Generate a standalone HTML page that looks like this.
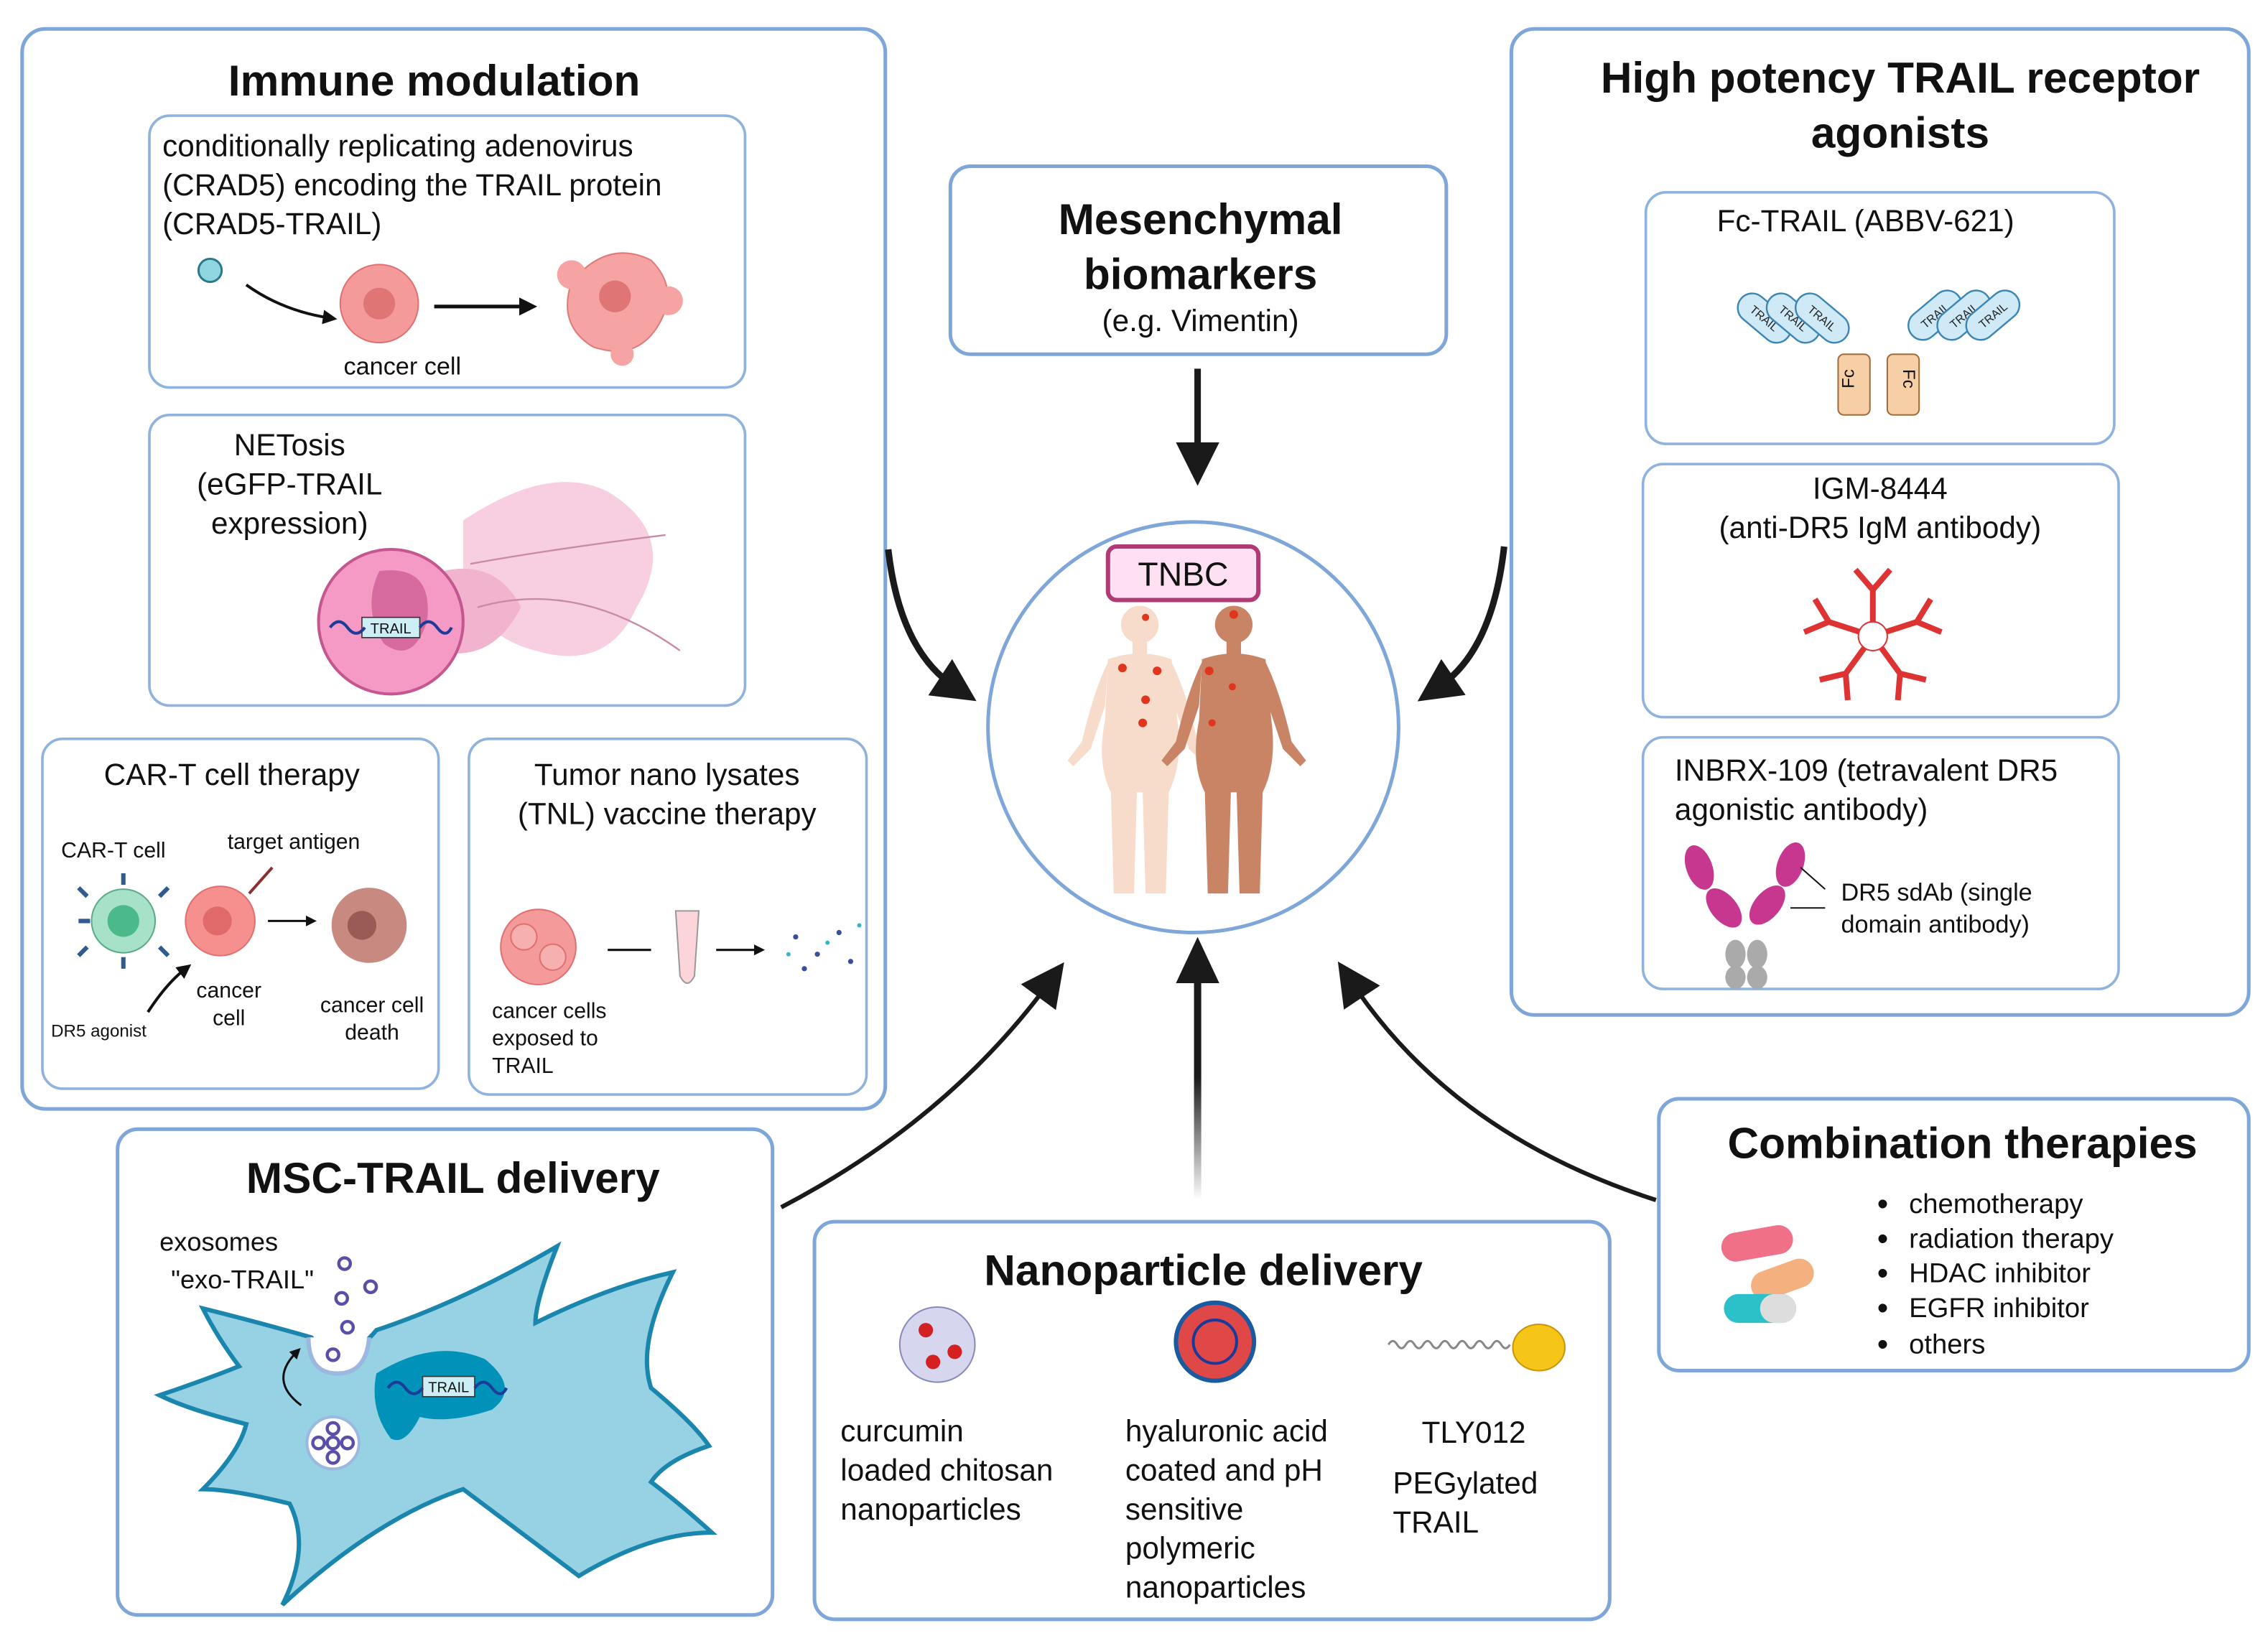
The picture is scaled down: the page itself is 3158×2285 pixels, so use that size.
<!DOCTYPE html>
<html><head><meta charset="utf-8"><style>html,body{margin:0;padding:0;background:#fff}svg{display:block}</style></head>
<body>
<svg xmlns="http://www.w3.org/2000/svg" width="3158" height="2285" viewBox="0 0 1568 1135" font-family="Liberation Sans, sans-serif">
<defs>
<marker id="ah" viewBox="0 0 10 10" refX="4" refY="5" markerUnits="userSpaceOnUse" markerWidth="34" markerHeight="30" orient="auto"><path d="M0,0 L10,5 L0,10 z" fill="#1a1a1a"/></marker>
<marker id="as" viewBox="0 0 10 10" refX="5" refY="5" markerWidth="5" markerHeight="5" orient="auto"><path d="M0,0 L10,5 L0,10 z" fill="#111"/></marker>
<linearGradient id="fade" gradientUnits="userSpaceOnUse" x1="0" y1="830" x2="0" y2="660"><stop offset="0" stop-color="#1a1a1a" stop-opacity="0"/><stop offset="0.5" stop-color="#1a1a1a"/></linearGradient>
<g id="body">
<circle cx="0" cy="14" r="13"/>
<rect x="-5" y="24" width="10" height="12"/>
<path d="M-22,38 Q0,30 22,38 L26,80 Q30,110 20,130 L18,200 L4,200 L2,130 L-2,130 L-4,200 L-18,200 L-20,130 Q-30,110 -24,80 Z"/>
<path d="M-22,40 Q-32,60 -40,95 L-50,108 L-46,112 L-34,100 L-24,70 Z"/>
<path d="M22,40 Q32,60 40,95 L50,108 L46,112 L34,100 L24,70 Z"/>
</g>
<g id="trail"><rect x="-21" y="-10" width="42" height="20" rx="10" fill="#cfe9f7" stroke="#3b86b5" stroke-width="1.2"/><text x="0" y="3" font-size="8" text-anchor="middle" fill="#222">TRAIL</text></g>
<g id="ab"><path d="M0,0 L0,-22 M0,-22 L-12,-36 M0,-22 L12,-36" stroke="#d33" stroke-width="4" fill="none"/></g>
</defs>
<rect width="1568" height="1135" fill="#fff"/>
<g fill="none" stroke="#7fa6d8" stroke-width="2.5">
<rect x="15" y="20" width="597" height="747" rx="16"/>
<rect x="1045" y="20" width="510" height="682" rx="16"/>
<rect x="657" y="115" width="343" height="130" rx="14"/>
<rect x="81" y="781" width="453" height="336" rx="14"/>
<rect x="563" y="845" width="550" height="275" rx="14"/>
<rect x="1147" y="760" width="408" height="188" rx="14"/>
</g>
<g fill="none" stroke="#8fb3de" stroke-width="1.8">
<rect x="103" y="80" width="412" height="188" rx="14"/>
<rect x="103" y="287" width="412" height="201" rx="14"/>
<rect x="29" y="511" width="274" height="242" rx="14"/>
<rect x="324" y="511" width="275" height="246" rx="14"/>
<rect x="1138" y="133" width="324" height="174" rx="14"/>
<rect x="1136" y="321" width="329" height="175" rx="14"/>
<rect x="1136" y="510" width="329" height="174" rx="14"/>
</g>
<circle cx="825" cy="503" r="142" fill="none" stroke="#7fa6d8" stroke-width="2.5"/>

<!-- arrows -->
<g stroke="#1a1a1a" stroke-width="4.5" fill="none">
<path d="M828,255 L828,318" marker-end="url(#ah)"/>
<path d="M614,380 Q622,450 660,475" marker-end="url(#ah)"/>
<path d="M1040,378 Q1032,450 995,475" marker-end="url(#ah)"/>
</g>
<g fill="none">
<path d="M540,835 Q655,775 725,680" stroke="#1a1a1a" stroke-width="3" marker-end="url(#ah)"/>
<path d="M828,830 L828,675" stroke="url(#fade)" stroke-width="5"/>
<path d="M1145,830 Q1005,785 935,680" stroke="#1a1a1a" stroke-width="3" marker-end="url(#ah)"/>
</g>
<path d="M813,680 L843,680 L828,648 Z" fill="#1a1a1a"/>

<!-- titles -->
<g font-weight="bold" fill="#111" text-anchor="middle">
<text x="300" y="66" font-size="30">Immune modulation</text>
<text x="1314" y="64" font-size="30">High potency TRAIL receptor</text>
<text x="1314" y="102" font-size="30">agonists</text>
<text x="830" y="162" font-size="30">Mesenchymal</text>
<text x="830" y="200" font-size="30">biomarkers</text>
<text x="313" y="825" font-size="30">MSC-TRAIL delivery</text>
<text x="832" y="889" font-size="30">Nanoparticle delivery</text>
<text x="1357" y="801" font-size="30">Combination therapies</text>
</g>
<g fill="#111" font-size="21">
<text x="830" y="229" font-size="21" text-anchor="middle">(e.g. Vimentin)</text>
<text x="112" y="108">conditionally replicating adenovirus</text>
<text x="112" y="135">(CRAD5) encoding the TRAIL protein</text>
<text x="112" y="162">(CRAD5-TRAIL)</text>
<text x="278" y="259" font-size="17" text-anchor="middle">cancer cell</text>
<text x="200" y="315" text-anchor="middle">NETosis</text>
<text x="200" y="342" text-anchor="middle">(eGFP-TRAIL</text>
<text x="200" y="369" text-anchor="middle">expression)</text>
<text x="160" y="543" text-anchor="middle">CAR-T cell therapy</text>
<text x="461" y="543" text-anchor="middle">Tumor nano lysates</text>
<text x="461" y="570" text-anchor="middle">(TNL) vaccine therapy</text>
<text x="1290" y="160" text-anchor="middle">Fc-TRAIL (ABBV-621)</text>
<text x="1300" y="345" text-anchor="middle">IGM-8444</text>
<text x="1300" y="372" text-anchor="middle">(anti-DR5 IgM antibody)</text>
<text x="1158" y="540">INBRX-109 (tetravalent DR5</text>
<text x="1158" y="567">agonistic antibody)</text>
<text x="581" y="997">curcumin</text>
<text x="581" y="1024">loaded chitosan</text>
<text x="581" y="1051">nanoparticles</text>
<text x="778" y="997">hyaluronic acid</text>
<text x="778" y="1024">coated and pH</text>
<text x="778" y="1051">sensitive</text>
<text x="778" y="1078">polymeric</text>
<text x="778" y="1105">nanoparticles</text>
<text x="983" y="998">TLY012</text>
<text x="963" y="1033">PEGylated</text>
<text x="963" y="1060">TRAIL</text>
</g>
<g fill="#111" font-size="19">
<text x="1320" y="839">chemotherapy</text>
<text x="1320" y="863">radiation therapy</text>
<text x="1320" y="887">HDAC inhibitor</text>
<text x="1320" y="911">EGFR inhibitor</text>
<text x="1320" y="936">others</text>
<g font-size="22"><text x="1298" y="840">•</text><text x="1298" y="864">•</text><text x="1298" y="888">•</text><text x="1298" y="912">•</text><text x="1298" y="937">•</text></g>
</g>
<g fill="#111" font-size="15">
<text x="42" y="593">CAR-T cell</text>
<text x="157" y="587">target antigen</text>
<text x="158" y="690" text-anchor="middle">cancer</text>
<text x="158" y="709" text-anchor="middle">cell</text>
<text x="257" y="700" text-anchor="middle">cancer cell</text>
<text x="257" y="719" text-anchor="middle">death</text>
<text x="35" y="717" font-size="12">DR5 agonist</text>
<text x="340" y="704">cancer cells</text>
<text x="340" y="723">exposed to</text>
<text x="340" y="742">TRAIL</text>
<text x="1273" y="623" font-size="17">DR5 sdAb (single</text>
<text x="1273" y="645" font-size="17">domain antibody)</text>
<text x="110" y="865" font-size="18">exosomes</text>
<text x="118" y="891" font-size="18">"exo-TRAIL"</text>
</g>

<!-- CRAD5 illustration -->
<g>
<circle cx="145" cy="187" r="8" fill="#8fd6e0" stroke="#2a7a8a" stroke-width="1.5"/>
<path d="M170,197 Q195,215 228,220" stroke="#111" stroke-width="2" fill="none" marker-end="url(#as)"/>
<circle cx="262" cy="210" r="27" fill="#f49a9a" stroke="#e07070"/>
<circle cx="262" cy="210" r="11" fill="#e07575"/>
<path d="M300,212 L365,212" stroke="#111" stroke-width="2.5" marker-end="url(#as)"/>
<path d="M395,195 Q420,165 450,180 Q470,200 455,225 Q440,250 410,240 Q385,225 395,195Z" fill="#f6a3a3" stroke="#e07a7a"/>
<circle cx="425" cy="205" r="11" fill="#e07575"/>
<circle cx="395" cy="190" r="10" fill="#f6a3a3"/><circle cx="462" cy="208" r="10" fill="#f6a3a3"/><circle cx="430" cy="245" r="8" fill="#f6a3a3"/>
</g>
<!-- NETosis -->
<g>
<path d="M320,360 Q380,320 420,340 Q470,370 440,420 Q420,465 370,450 Q330,440 320,400Z" fill="#f8cfe0"/>
<path d="M290,400 Q340,380 360,420 Q340,460 300,450Z" fill="#f2b3ce"/>
<circle cx="270" cy="430" r="50" fill="#f49ac4" stroke="#c4578f" stroke-width="2"/>
<path d="M262,395 Q300,390 295,430 Q285,460 265,445 Q250,420 262,395Z" fill="#d76a9e"/>
<rect x="250" y="427" width="40" height="14" fill="#cdeef5" stroke="#333" stroke-width="0.8"/>
<text x="270" y="438" font-size="10" text-anchor="middle" fill="#111">TRAIL</text>
<path d="M228,434 q6,-8 12,0 t12,0 M290,434 q6,-8 12,0 t10,0" stroke="#1d3c9a" stroke-width="2" fill="none"/>
<path d="M325,390 Q380,380 460,370 M330,420 Q400,400 470,450" stroke="#c98aaa" stroke-width="1.2" fill="none"/>
</g>
<!-- CAR-T -->
<g>
<circle cx="85" cy="637" r="22" fill="#a7e1c7" stroke="#5aaa8a"/>
<circle cx="85" cy="637" r="11" fill="#4cb98a"/>
<g stroke="#2f5b8f" stroke-width="3"><path d="M60,620 l-6,-6 M110,620 l6,-6 M60,655 l-6,6 M110,655 l6,6 M85,612 v-8 M85,662 v8 M62,637 h-8"/></g>
<circle cx="152" cy="637" r="24" fill="#f5908e" stroke="#e07070"/>
<circle cx="150" cy="637" r="10" fill="#e06a6a"/>
<path d="M172,618 L188,600" stroke="#8a3030" stroke-width="2"/>
<path d="M102,700 Q115,680 128,670" stroke="#111" stroke-width="2" fill="none" marker-end="url(#as)"/>
<path d="M185,637 L215,637" stroke="#111" stroke-width="1.5" marker-end="url(#as)"/>
<circle cx="255" cy="640" r="26" fill="#c88a80"/>
<circle cx="250" cy="640" r="10" fill="#9a5a55"/>
</g>
<!-- TNL -->
<g>
<circle cx="372" cy="655" r="26" fill="#f49a9a" stroke="#e07070"/>
<circle cx="362" cy="648" r="9" fill="#f7b0b0" stroke="#e07070"/><circle cx="382" cy="662" r="9" fill="#f7b0b0" stroke="#e07070"/>
<path d="M420,657 L450,657 M495,657 L525,657" stroke="#111" stroke-width="1.5" marker-end="url(#as)"/>
<path d="M467,630 L483,630 L480,675 Q475,685 470,675 Z" fill="#fbd5d9" stroke="#999"/>
<g fill="#3a4ea0"><circle cx="550" cy="648" r="1.8"/><circle cx="565" cy="660" r="1.8"/><circle cx="580" cy="645" r="1.8"/><circle cx="556" cy="670" r="1.8"/><circle cx="588" cy="665" r="1.8"/></g>
<g fill="#3ab5c8"><circle cx="545" cy="660" r="1.5"/><circle cx="572" cy="652" r="1.5"/><circle cx="594" cy="640" r="1.5"/></g>
</g>

<!-- TNBC -->
<rect x="766" y="378" width="104" height="37" rx="6" fill="#fde0f2" stroke="#b03a76" stroke-width="3"/>
<text x="818" y="405" font-size="23" text-anchor="middle" fill="#111">TNBC</text>
<use href="#body" x="788" y="418" fill="#f8dccb"/>
<use href="#body" x="853" y="418" fill="#c98466"/>
<g fill="#e0361e"><circle cx="776" cy="462" r="3"/><circle cx="800" cy="464" r="3"/><circle cx="792" cy="484" r="3"/><circle cx="790" cy="500" r="3"/><circle cx="836" cy="464" r="3"/><circle cx="852" cy="475" r="2.5"/><circle cx="838" cy="500" r="2.5"/><circle cx="792" cy="427" r="2.5"/><circle cx="853" cy="425" r="3"/></g>

<!-- Fc-TRAIL -->
<g>
<use href="#trail" transform="translate(1220,220) rotate(40)"/>
<use href="#trail" transform="translate(1240,220) rotate(40)"/>
<use href="#trail" transform="translate(1260,220) rotate(40)"/>
<use href="#trail" transform="translate(1338,218) rotate(-40)"/>
<use href="#trail" transform="translate(1358,218) rotate(-40)"/>
<use href="#trail" transform="translate(1378,218) rotate(-40)"/>
<rect x="1271" y="245" width="22" height="42" rx="4" fill="#f7cfa7" stroke="#a06a3a"/>
<rect x="1305" y="245" width="22" height="42" rx="4" fill="#f7cfa7" stroke="#a06a3a"/>
<text x="1286" y="266" font-size="12" transform="rotate(-90 1282 266)" text-anchor="middle" fill="#111">Fc</text>
<text x="1312" y="266" font-size="12" transform="rotate(90 1316 266)" text-anchor="middle" fill="#111">Fc</text>
</g>
<!-- IgM -->
<g transform="translate(1295,440)">
<circle r="10" fill="none" stroke="#d33" stroke-width="1"/>
<use href="#ab" transform="rotate(0) translate(0,-10)"/>
<use href="#ab" transform="rotate(72) translate(0,-10)"/>
<use href="#ab" transform="rotate(144) translate(0,-10)"/>
<use href="#ab" transform="rotate(216) translate(0,-10)"/>
<use href="#ab" transform="rotate(288) translate(0,-10)"/>
</g>
<!-- INBRX -->
<g>
<ellipse cx="1175" cy="600" rx="9" ry="16" fill="#c7378f" transform="rotate(-20 1175 600)"/>
<ellipse cx="1192" cy="628" rx="9" ry="16" fill="#c7378f" transform="rotate(-40 1192 628)"/>
<ellipse cx="1238" cy="598" rx="9" ry="16" fill="#c7378f" transform="rotate(20 1238 598)"/>
<ellipse cx="1222" cy="626" rx="9" ry="16" fill="#c7378f" transform="rotate(40 1222 626)"/>
<ellipse cx="1200" cy="660" rx="7" ry="10" fill="#aaa"/><ellipse cx="1215" cy="660" rx="7" ry="10" fill="#aaa"/>
<ellipse cx="1200" cy="676" rx="7" ry="8" fill="#aaa"/><ellipse cx="1215" cy="676" rx="7" ry="8" fill="#aaa"/>
<path d="M1245,600 L1262,615 M1238,628 L1262,628" stroke="#111" stroke-width="1"/>
</g>

<!-- MSC cell -->
<path d="M140,905 Q180,915 215,925 Q235,950 260,920 Q320,900 385,862 Q370,900 370,915 Q420,890 465,880 Q440,930 450,960 Q480,985 490,1000 Q460,1010 450,1025 Q470,1040 492,1060 Q450,1060 400,1090 Q360,1060 320,1030 Q260,1050 195,1110 Q215,1070 200,1040 Q160,1030 140,1030 Q165,1005 170,985 Q130,975 110,965 Q140,955 165,945 Q150,925 140,905Z" fill="#96d2e4" stroke="#1a86ad" stroke-width="3"/>
<path d="M213,925 Q213,950 233,950 Q253,950 255,925" fill="#fff" stroke="#9cb8e0" stroke-width="3"/>
<path d="M260,950 Q300,925 335,940 Q360,960 340,975 Q310,985 290,980 Q280,1000 270,995 Q255,975 260,950Z" fill="#0092b8"/>
<rect x="292" y="952" width="36" height="14" fill="#cdeef5" stroke="#333" stroke-width="0.8"/>
<text x="310" y="963" font-size="10" text-anchor="middle" fill="#111">TRAIL</text>
<path d="M268,960 q6,-8 12,0 t12,0 M328,960 q6,-8 12,0 t10,0" stroke="#1d3c9a" stroke-width="2" fill="none"/>
<circle cx="230" cy="998" r="18" fill="#fff" stroke="#9cb8e0" stroke-width="2"/>
<g fill="none" stroke="#5a4fa8" stroke-width="2.2">
<circle cx="230" cy="988" r="4"/><circle cx="220" cy="998" r="4"/><circle cx="230" cy="998" r="4"/><circle cx="240" cy="998" r="4"/><circle cx="230" cy="1008" r="4"/>
<circle cx="238" cy="874" r="4"/><circle cx="256" cy="890" r="4"/><circle cx="236" cy="898" r="4"/><circle cx="240" cy="918" r="4"/><circle cx="230" cy="937" r="4"/>
</g>
<path d="M208,972 Q185,955 205,935" stroke="#111" stroke-width="1.5" fill="none" marker-end="url(#as)"/>

<!-- nanoparticles -->
<circle cx="648" cy="930" r="26" fill="#d6d6ee" stroke="#8888bb"/>
<g fill="#d42020"><circle cx="640" cy="920" r="5"/><circle cx="660" cy="935" r="5"/><circle cx="645" cy="942" r="5"/></g>
<circle cx="840" cy="928" r="27" fill="#e04848" stroke="#1a5aa0" stroke-width="3"/>
<circle cx="840" cy="928" r="15" fill="none" stroke="#1a3a9a" stroke-width="2"/>
<path d="M960,930 q3,-5 6,0 t6,0 t6,0 t6,0 t6,0 t6,0 t6,0 t6,0 t6,0 t6,0 t6,0 t6,0 t6,0 t6,0" stroke="#888" stroke-width="1.5" fill="none"/>
<ellipse cx="1064" cy="932" rx="18" ry="16" fill="#f5c518" stroke="#c9940a"/>
<!-- pills -->
<g>
<rect x="1190" y="850" width="50" height="20" rx="10" fill="#f07088" transform="rotate(-10 1215 860)"/>
<rect x="1210" y="875" width="45" height="20" rx="10" fill="#f5b080" transform="rotate(-20 1232 885)"/>
<rect x="1192" y="895" width="50" height="20" rx="10" fill="#2cc0c8"/>
<rect x="1217" y="895" width="25" height="20" rx="10" fill="#ddd"/>
</g>
</svg>
</body></html>
